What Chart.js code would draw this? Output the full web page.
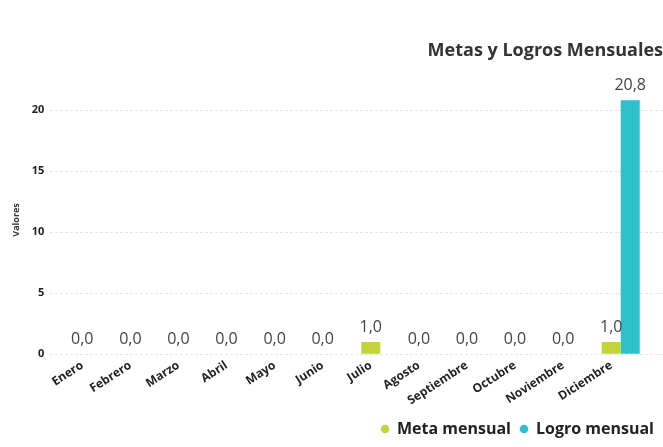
<!DOCTYPE html>
<html>
<head>
<meta charset="utf-8">
<script src="https://cdn.jsdelivr.net/npm/chart.js@4/dist/chart.umd.min.js"></script>
<style>
html, body { margin: 0; padding: 0; background: #fff; }
#wrap { width: 663px; height: 447px; }
</style>
</head>
<body>
<div id="wrap"><canvas id="metasChart"></canvas></div>
<script>
const months = ['Enero', 'Febrero', 'Marzo', 'Abril', 'Mayo', 'Junio', 'Julio',
    'Agosto', 'Septiembre', 'Octubre', 'Noviembre', 'Diciembre'];
const metaMensual = [0, 0, 0, 0, 0, 0, 1, 0, 0, 0, 0, 1];
const logroMensual = [0, 0, 0, 0, 0, 0, 0, 0, 0, 0, 0, 20.8];
const yTicks = [0, 5, 10, 15, 20];

Chart.defaults.font.family = '"Open Sans", sans-serif';

// value labels above the bars, decimal comma like the original
const valueLabels = {
    id: 'valueLabels',
    afterDatasetsDraw(chart) {
        const ctx = chart.ctx;
        ctx.save();
        ctx.font = '16px "Open Sans"';
        ctx.fillStyle = '#444';
        ctx.textAlign = 'center';
        ctx.textBaseline = 'middle';
        chart.data.datasets.forEach((ds, di) => {
            if (!ds.showValues) return;
            chart.getDatasetMeta(di).data.forEach((bar, i) => {
                const v = ds.data[i].y;
                if (ds.hideZero && v === 0) return;
                ctx.fillText(v.toFixed(1).replace('.', ','), bar.x, bar.y - 15);
            });
        });
        ctx.restore();
    }
};

const ctx = document.getElementById('metasChart').getContext('2d');
new Chart(ctx, {
    type: 'bar',
    data: {
        datasets: [
            {
                // empty slot so the meta bar sits on the month centre
                label: '',
                data: months.map((m, i) => ({ x: i, y: 0 })),
                backgroundColor: 'rgba(0,0,0,0)'
            },
            {
                label: 'Meta mensual',
                data: metaMensual.map((v, i) => ({ x: i, y: v })),
                backgroundColor: '#c4d23b',
                showValues: true
            },
            {
                label: 'Logro mensual',
                data: logroMensual.map((v, i) => ({ x: i, y: v })),
                backgroundColor: '#2ec0cc',
                showValues: true,
                hideZero: true
            }
        ]
    },
    options: {
        responsive: true,
        maintainAspectRatio: false,
        animation: false,
        datasets: { bar: { barThickness: 19, inflateAmount: 0 } },
        layout: { padding: { left: 7, right: 0, bottom: 0 } },
        plugins: {
            title: {
                display: true,
                text: 'Metas y Logros Mensuales',
                align: 'end',
                color: '#333',
                font: { size: 18, weight: 'bold' },
                padding: { top: 40, bottom: 24 }
            },
            legend: {
                position: 'bottom',
                align: 'end',
                labels: {
                    filter: item => item.text !== '',
                    usePointStyle: true,
                    pointStyle: 'circle',
                    boxWidth: 8,
                    boxHeight: 6,
                    color: '#222',
                    font: { size: 16, weight: 'bold' },
                    padding: 9
                }
            },
            tooltip: { enabled: false }
        },
        scales: {
            x: {
                type: 'linear',
                offset: false,
                min: -0.663,
                max: 12.077,
                grid: { display: false, drawTicks: false },
                border: { display: false },
                afterBuildTicks: s => { s.ticks = months.map((m, i) => ({ value: i })); },
                ticks: {
                    callback: v => months[v],
                    minRotation: 33,
                    maxRotation: 33,
                    autoSkip: false,
                    padding: 4,
                    color: '#222',
                    font: { size: 12, weight: 'bold' }
                }
            },
            y: {
                min: 0,
                max: 22,
                afterBuildTicks: s => { s.ticks = yTicks.map(v => ({ value: v })); },
                grid: { color: '#e6e6e6', drawTicks: false },
                border: { display: false, dash: [3, 2] },
                title: {
                    display: true,
                    text: 'Valores',
                    color: '#333',
                    font: { size: 9, weight: 'bold' }
                },
                ticks: {
                    color: '#222',
                    padding: 6,
                    font: { size: 11, weight: 'bold' }
                }
            }
        }
    },
    plugins: [valueLabels]
});
</script>
</body>
</html>
